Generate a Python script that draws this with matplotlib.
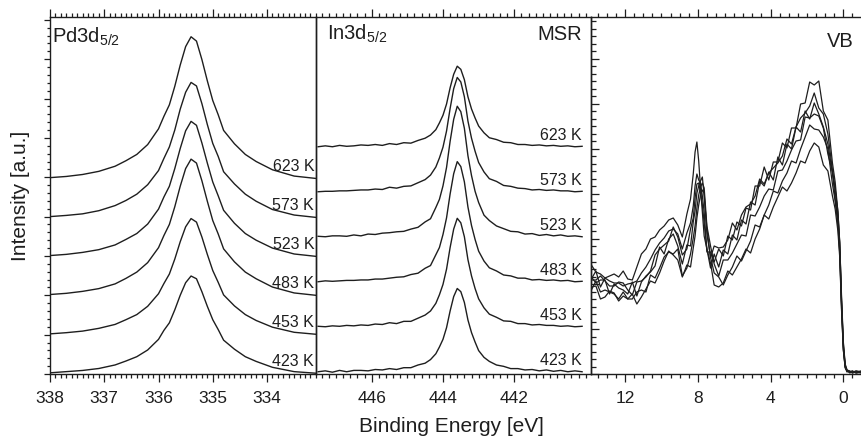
import matplotlib
matplotlib.use("Agg")
import matplotlib.pyplot as plt
from matplotlib.ticker import MultipleLocator, FixedLocator, StrMethodFormatter

plt.rcParams.update({
    "font.family": ["Liberation Sans", "DejaVu Sans"],
    "mathtext.fontset": "custom",
    "mathtext.rm": "Liberation Sans",
    "mathtext.it": "Liberation Sans:italic",
    "mathtext.bf": "Liberation Sans:bold",
    "mathtext.default": "regular",
})

# ---------------- data ----------------
temperatures = ["423 K", "453 K", "483 K", "523 K", "573 K", "623 K"]

# Pd 3d5/2 core level (binding energy, eV) and intensities (a.u.)
pd_energy = [338.0, 337.7, 337.4, 337.1, 336.8, 336.6, 336.4, 336.2, 336.0, 335.9,
             335.8, 335.7, 335.6, 335.5, 335.4, 335.3, 335.2, 335.1, 335.0, 334.9,
             334.8, 334.6, 334.4, 334.2, 333.9, 333.5, 333.1]
pd_423 = [0.01, 0.04, 0.07, 0.12, 0.21, 0.31, 0.42, 0.59, 0.86, 1.09, 1.28, 1.61, 1.98, 2.30,
          2.47, 2.40, 2.07, 1.70, 1.36, 1.11, 0.84, 0.61, 0.42, 0.30, 0.15, 0.04, 0.0]
pd_453 = [0.01, 0.04, 0.08, 0.15, 0.25, 0.37, 0.50, 0.71, 1.03, 1.29, 1.53, 1.91, 2.35, 2.73,
          2.94, 2.85, 2.47, 2.03, 1.62, 1.32, 1.00, 0.72, 0.50, 0.35, 0.18, 0.05, 0.0]
pd_483 = [0.02, 0.05, 0.10, 0.17, 0.29, 0.43, 0.59, 0.83, 1.21, 1.52, 1.80, 2.25, 2.77, 3.22,
          3.46, 3.36, 2.91, 2.39, 1.90, 1.56, 1.18, 0.85, 0.59, 0.42, 0.21, 0.06, 0.0]
pd_523 = [0.02, 0.05, 0.10, 0.17, 0.29, 0.43, 0.58, 0.82, 1.20, 1.51, 1.78, 2.23, 2.74, 3.19,
          3.43, 3.33, 2.88, 2.37, 1.89, 1.54, 1.17, 0.84, 0.58, 0.41, 0.21, 0.06, 0.0]
pd_573 = [0.02, 0.05, 0.09, 0.17, 0.30, 0.43, 0.59, 0.83, 1.19, 1.50, 1.79, 2.22, 2.75, 3.18,
          3.43, 3.34, 2.89, 2.36, 1.88, 1.55, 1.16, 0.85, 0.59, 0.41, 0.20, 0.06, 0.0]
pd_623 = [0.02, 0.05, 0.10, 0.18, 0.31, 0.45, 0.61, 0.86, 1.26, 1.58, 1.87, 2.34, 2.88, 3.35,
          3.60, 3.49, 3.02, 2.48, 1.98, 1.62, 1.22, 0.88, 0.61, 0.43, 0.22, 0.06, 0.0]

# In 3d5/2 core level
in_energy = [447.5, 447.3, 447.1, 446.9, 446.7, 446.5, 446.3, 446.1, 445.9, 445.7,
             445.5, 445.3, 445.1, 444.9, 444.7, 444.5, 444.35, 444.2, 444.1, 444.0,
             443.9, 443.8, 443.7, 443.6, 443.5, 443.4, 443.3, 443.2, 443.1, 443.0,
             442.85, 442.7, 442.5, 442.3, 442.1, 441.9, 441.7, 441.5, 441.3, 441.1,
             440.9, 440.7, 440.5, 440.3, 440.1]
in_423 = [0.00, 0.02, -0.01, 0.03, 0.00, 0.03, 0.03, 0.02, 0.05, 0.04,
          0.07, 0.05, 0.09, 0.09, 0.15, 0.19, 0.27, 0.40, 0.55, 0.72,
          0.98, 1.35, 1.67, 1.85, 1.78, 1.54, 1.15, 0.87, 0.66, 0.47,
          0.32, 0.23, 0.15, 0.12, 0.07, 0.07, 0.04, 0.05, 0.02, 0.04,
          0.01, 0.03, 0.00, 0.02, 0.00]
in_453 = [0.01, 0.00, 0.02, 0.01, 0.03, 0.02, 0.04, 0.03, 0.06, 0.05,
          0.09, 0.07, 0.12, 0.12, 0.19, 0.26, 0.35, 0.52, 0.71, 0.94,
          1.28, 1.76, 2.17, 2.41, 2.31, 2.00, 1.49, 1.13, 0.85, 0.62,
          0.42, 0.28, 0.21, 0.13, 0.12, 0.07, 0.07, 0.04, 0.05, 0.03,
          0.03, 0.01, 0.02, 0.00, 0.01]
in_483 = [0.00, 0.02, 0.01, 0.02, 0.03, 0.03, 0.04, 0.04, 0.06, 0.06,
          0.08, 0.10, 0.11, 0.16, 0.19, 0.30, 0.36, 0.60, 0.76, 1.05,
          1.42, 1.95, 2.40, 2.67, 2.56, 2.22, 1.66, 1.25, 0.94, 0.68,
          0.46, 0.31, 0.24, 0.15, 0.13, 0.08, 0.08, 0.04, 0.05, 0.03,
          0.04, 0.02, 0.03, 0.00, 0.01]
in_523 = [0.01, 0.00, 0.02, 0.02, 0.01, 0.04, 0.02, 0.06, 0.05, 0.08,
          0.09, 0.11, 0.12, 0.17, 0.21, 0.33, 0.40, 0.65, 0.83, 1.13,
          1.54, 2.12, 2.61, 2.90, 2.78, 2.41, 1.80, 1.36, 1.01, 0.76,
          0.48, 0.36, 0.24, 0.18, 0.12, 0.11, 0.06, 0.07, 0.03, 0.05,
          0.02, 0.04, 0.01, 0.02, 0.00]
in_573 = [0.00, 0.01, 0.01, 0.02, 0.02, 0.03, 0.04, 0.04, 0.06, 0.05,
          0.10, 0.08, 0.12, 0.13, 0.20, 0.27, 0.37, 0.55, 0.75, 0.99,
          1.35, 1.85, 2.29, 2.54, 2.44, 2.11, 1.57, 1.19, 0.90, 0.65,
          0.44, 0.29, 0.23, 0.14, 0.12, 0.08, 0.07, 0.04, 0.05, 0.03,
          0.04, 0.02, 0.02, 0.00, 0.01]
in_623 = [0.00, 0.02, 0.00, 0.03, 0.01, 0.02, 0.04, 0.03, 0.05, 0.03,
          0.07, 0.05, 0.09, 0.08, 0.14, 0.19, 0.26, 0.38, 0.53, 0.70,
          0.95, 1.31, 1.61, 1.79, 1.72, 1.49, 1.11, 0.84, 0.64, 0.46,
          0.31, 0.20, 0.16, 0.10, 0.09, 0.05, 0.05, 0.03, 0.04, 0.02,
          0.03, 0.01, 0.02, 0.00, 0.01]

# Valence band
vb_energy = [13.85, 13.6, 13.35, 13.1, 12.85, 12.6, 12.35, 12.1, 11.85, 11.6,
             11.35, 11.1, 10.85, 10.6, 10.35, 10.1, 9.85, 9.6, 9.35, 9.1,
             8.85, 8.6, 8.4, 8.25, 8.15, 8.05, 7.95, 7.85, 7.75, 7.65,
             7.5, 7.3, 7.1, 6.85, 6.6, 6.35, 6.1, 5.85, 5.6, 5.35,
             5.1, 4.85, 4.6, 4.35, 4.1, 3.85, 3.6, 3.35, 3.1, 2.85,
             2.6, 2.35, 2.1, 1.85, 1.6, 1.35, 1.1, 0.85, 0.6, 0.45,
             0.3, 0.2, 0.1, 0.0, -0.1, -0.2, -0.35, -0.5, -0.7, -0.95]
vb_423 = [109, 102, 100, 96, 98, 100, 97, 103, 95, 94,
          107, 120, 125, 135, 137, 144, 148, 154, 156, 149,
          137, 160, 175, 200, 222, 232, 213, 186, 162, 138,
          125, 106, 120, 107, 124, 120, 139, 134, 154, 150,
          172, 169, 193, 188, 202, 194, 217, 209, 230, 225,
          247, 242, 263, 255, 271, 260, 247, 230, 201, 186,
          158, 130, 72, 28, 8, 3, 2, 3, 1, 2]
vb_453 = [95, 103, 87, 96, 93, 91, 91, 88, 90, 91,
          93, 101, 107, 115, 124, 131, 136, 143, 145, 140,
          125, 141, 151, 168, 188, 200, 194, 191, 178, 162,
          122, 122, 112, 125, 118, 138, 134, 152, 148, 166,
          164, 188, 188, 207, 194, 212, 212, 231, 226, 246,
          246, 270, 271, 292, 289, 293, 263, 254, 211, 192,
          162, 132, 74, 30, 9, 4, 3, 1, 3, 2]
vb_483 = [97, 91, 94, 94, 80, 90, 86, 84, 80, 92,
          78, 92, 98, 102, 108, 127, 120, 135, 140, 128,
          110, 129, 128, 152, 163, 181, 188, 193, 197, 178,
          146, 116, 128, 126, 127, 134, 151, 144, 159, 167,
          170, 178, 195, 190, 201, 206, 211, 218, 235, 230,
          247, 256, 261, 268, 281, 266, 260, 240, 204, 184,
          163, 131, 78, 32, 10, 4, 1, 2, 2, 3]
vb_523 = [84, 93, 82, 84, 82, 80, 75, 82, 75, 75,
          82, 84, 82, 99, 96, 106, 117, 122, 120, 125,
          98, 106, 120, 136, 148, 166, 179, 187, 191, 186,
          148, 128, 110, 98, 114, 114, 121, 130, 139, 138,
          159, 158, 167, 178, 185, 184, 203, 204, 213, 224,
          233, 234, 257, 256, 260, 258, 246, 220, 202, 175,
          155, 123, 70, 26, 7, 3, 2, 3, 1, 2]
vb_573 = [87, 88, 75, 77, 83, 81, 73, 78, 75, 80,
          70, 77, 85, 93, 91, 101, 113, 123, 119, 114,
          97, 109, 107, 126, 138, 156, 169, 179, 184, 181,
          140, 117, 101, 97, 89, 99, 107, 118, 113, 123,
          133, 149, 147, 159, 169, 183, 181, 193, 201, 213,
          211, 225, 237, 249, 245, 244, 237, 225, 190, 173,
          149, 121, 66, 24, 7, 2, 3, 1, 2, 1]
vb_623 = [94, 94, 98, 93, 88, 88, 92, 91, 84, 79,
          92, 93, 97, 103, 119, 125, 129, 133, 147, 137,
          119, 125, 145, 156, 176, 190, 191, 181, 169, 151,
          125, 111, 89, 87, 91, 103, 99, 107, 115, 125,
          121, 135, 145, 159, 155, 167, 177, 187, 183, 191,
          201, 213, 211, 223, 231, 227, 209, 203, 178, 165,
          143, 117, 64, 24, 6, 3, 2, 2, 3, 2]

pd_spectra = [pd_423, pd_453, pd_483, pd_523, pd_573, pd_623]
in_spectra = [in_423, in_453, in_483, in_523, in_573, in_623]
vb_spectra = [vb_423, vb_453, vb_483, vb_523, vb_573, vb_623]

# ---------------- layout ----------------
INK = "#1e1e1e"
W, H = 861, 436
fig = plt.figure(figsize=(W / 100, H / 100), dpi=100)


def panel(x0, x1, top=16.7, bottom=374.0):
    ax = fig.add_axes([x0 / W, 1 - bottom / H, (x1 - x0) / W, (bottom - top) / H])
    ax.set_facecolor("none")
    for s in ax.spines.values():
        s.set_linewidth(1.0)
        s.set_color(INK)
    ax.tick_params(axis="x", which="both", direction="out", top=True, bottom=True,
                   labeltop=False, colors=INK, labelsize=12.5, pad=7, width=0.9)
    ax.tick_params(axis="x", which="major", length=5.5)
    ax.tick_params(axis="x", which="minor", length=3.0)
    ax.xaxis.set_major_formatter(StrMethodFormatter("{x:.0f}"))
    return ax


ax1 = panel(50, 316)
ax2 = panel(316, 591)
ax3 = panel(591, 861)

# Pd 3d panel
PD_BASE, PD_STEP = 0.02, 0.99
for i, (y, t) in enumerate(zip(pd_spectra, temperatures)):
    off = PD_BASE + i * PD_STEP
    ax1.plot(pd_energy, [v + off for v in y], color=INK, lw=1.0)
    ax1.text(333.13, off + 0.30, t, ha="right", va="center", fontsize=11.5, color=INK)
ax1.set_xlim(338.0, 333.097)
ax1.set_ylim(0, 9.08)
ax1.xaxis.set_major_locator(MultipleLocator(1))
ax1.xaxis.set_minor_locator(MultipleLocator(0.1))
ax1.yaxis.set_major_locator(MultipleLocator(1))
ax1.yaxis.set_minor_locator(MultipleLocator(0.2))
ax1.tick_params(axis="y", which="both", direction="out", left=True, right=False,
                labelleft=False, colors=INK, width=0.9)
ax1.tick_params(axis="y", which="major", length=4.5)
ax1.tick_params(axis="y", which="minor", length=2.5)
ax1.text(0.008, 0.974, "Pd3d$_{5/2}$", transform=ax1.transAxes, ha="left", va="top",
         fontsize=14.5, color=INK)

# In 3d panel
IN_BASE, IN_STEP = 0.05, 1.0
for i, (y, t) in enumerate(zip(in_spectra, temperatures)):
    off = IN_BASE + i * IN_STEP
    ax2.plot(in_energy, [v + off for v in y], color=INK, lw=1.0)
    ax2.text(440.11, off + 0.26, t, ha="right", va="center", fontsize=11.5, color=INK)
ax2.set_xlim(447.56, 439.85)
ax2.set_ylim(0, 7.94)
ax2.xaxis.set_major_locator(FixedLocator([446, 444, 442]))
ax2.xaxis.set_minor_locator(MultipleLocator(0.2))
ax2.tick_params(axis="y", which="both", left=False, right=False, labelleft=False)
ax2.text(0.039, 0.982, "In3d$_{5/2}$", transform=ax2.transAxes, ha="left", va="top",
         fontsize=14.5, color=INK)
ax2.text(0.966, 0.977, "MSR", transform=ax2.transAxes, ha="right", va="top",
         fontsize=14.5, color=INK)

# Valence band panel
for y in vb_spectra:
    ax3.plot(vb_energy, y, color=INK, lw=0.9)
ax3.set_xlim(13.87, -0.97)
ax3.set_ylim(0, 357.3)
ax3.xaxis.set_major_locator(MultipleLocator(4))
ax3.xaxis.set_minor_locator(MultipleLocator(0.5))
ax3.yaxis.set_major_locator(MultipleLocator(45))
ax3.yaxis.set_minor_locator(MultipleLocator(7.5))
ax3.tick_params(axis="y", which="both", direction="in", left=True, right=False,
                labelleft=False, colors=INK, width=0.9)
ax3.tick_params(axis="y", which="major", length=6)
ax3.tick_params(axis="y", which="minor", length=3.5)
ax3.spines["right"].set_visible(False)
ax3.text(0.974, 0.957, "VB", transform=ax3.transAxes, ha="right", va="top",
         fontsize=14.5, color=INK)

fig.text(451.3 / W, 1 - 417 / H, "Binding Energy [eV]", ha="center", va="top",
         fontsize=15, color=INK)
fig.text(21 / W, 1 - 196 / H, "Intensity [a.u.]", ha="center", va="center",
         rotation=90, fontsize=15, color=INK)

fig.savefig("out.png", dpi=100)
